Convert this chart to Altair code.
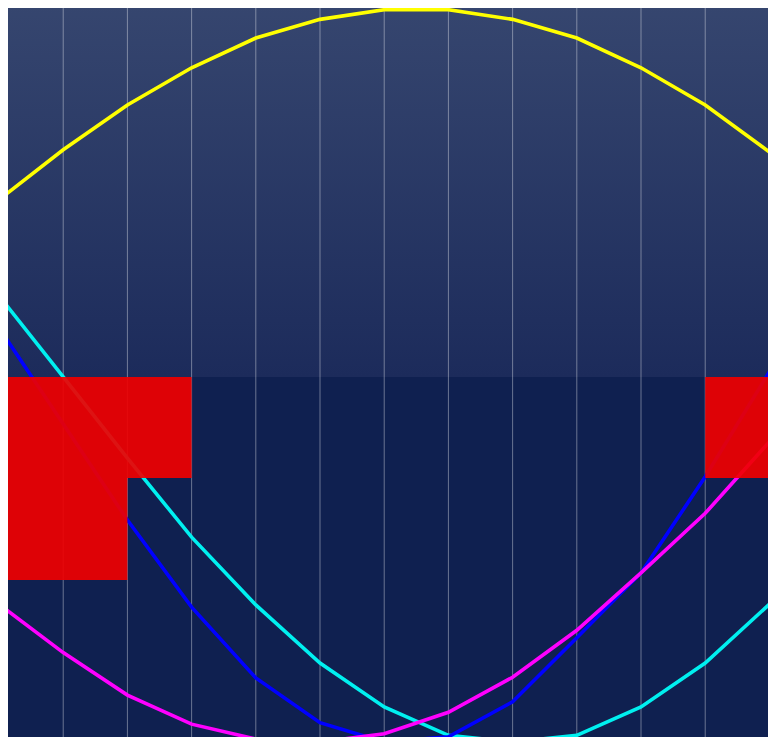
import altair as alt
import pandas as pd

# ---- data (x = grid column index, y = height units 0..100) ----
x_idx = list(range(13))
yellow = [73.2, 79.9, 85.9, 90.9, 94.9, 97.4, 98.7, 98.7, 97.4, 94.9, 90.9, 85.9, 79.6]
cyan = [60.3, 49.4, 38.5, 27.9, 18.8, 11.0, 5.1, 1.3, 0.4, 1.3, 5.1, 11.0, 18.9]
blue = [56.0, 43.1, 30.2, 18.5, 9.0, 3.0, 0.4, 1.1, 5.8, 14.4, 23.1, 36.0, 50.1]
magenta = [18.9, 12.4, 6.7, 2.8, 0.8, 0.4, 1.5, 4.4, 9.1, 15.4, 23.1, 31.1, 40.7]

series_names = ["yellow", "cyan", "blue", "magenta"]
series_colors = ["#ffff00", "#00f0f0", "#0000ff", "#ff00ff"]

# red blocks (x from/to in column units, y top/bottom in height units)
block_x0 = [-1, -1, 11, 12]
block_x1 = [3, 2, 14, 14]
block_top = [49.4, 35.84, 49.4, 35.84]
block_bottom = [35.84, 22.15, 35.84, 22.15]

# upper background band
band_x0 = [-1]
band_x1 = [14]
band_top = [100.0]
band_bottom = [49.4]

grid_x = list(range(1, 13))

X_DOMAIN = [0.14, 11.978]
Y_DOMAIN = [1.074, 98.926]

W, H = 760, 729

# ---- tables ----
lines_df = pd.DataFrame({
    "x": x_idx * 4,
    "y": yellow + cyan + blue + magenta,
    "series": sum([[n] * 13 for n in series_names], []),
})
blocks_df = pd.DataFrame({"x0": block_x0, "x1": block_x1, "top": block_top, "bottom": block_bottom})
band_df = pd.DataFrame({"x0": band_x0, "x1": band_x1, "top": band_top, "bottom": band_bottom})
grid_df = pd.DataFrame({"x": grid_x})

xs = alt.Scale(domain=X_DOMAIN, nice=False, zero=False)
ys = alt.Scale(domain=Y_DOMAIN, nice=False, zero=False)

band = alt.Chart(band_df).mark_rect(
    clip=True,
    fill=alt.Gradient(
        gradient="linear",
        stops=[alt.GradientStop(color="#36466f", offset=0),
               alt.GradientStop(color="#1c2b5b", offset=1)],
        x1=0, x2=0, y1=0, y2=1,
    ),
).encode(
    x=alt.X("x0:Q", scale=xs, axis=None),
    x2="x1:Q",
    y=alt.Y("top:Q", scale=ys, axis=None),
    y2="bottom:Q",
)

grid = alt.Chart(grid_df).mark_rule(color="#ffffff", opacity=0.38, strokeWidth=1).encode(
    x=alt.X("x:Q", scale=xs, axis=None),
)

layers = [band, grid]
for name, col in zip(series_names, series_colors):
    layers.append(
        alt.Chart(lines_df).transform_filter(alt.datum.series == name)
        .mark_line(clip=True, color=col, strokeWidth=3.6)
        .encode(
            x=alt.X("x:Q", scale=xs, axis=None),
            y=alt.Y("y:Q", scale=ys, axis=None),
        )
    )

blocks = alt.Chart(blocks_df).mark_rect(clip=True, color="#f00000", opacity=0.92).encode(
    x=alt.X("x0:Q", scale=xs, axis=None),
    x2="x1:Q",
    y=alt.Y("top:Q", scale=ys, axis=None),
    y2="bottom:Q",
)
layers.append(blocks)

chart = alt.layer(*layers).properties(
    width=W, height=H, padding=0, autosize=alt.AutoSizeParams(type="none"),
    background="#0f2050",
).configure_view(strokeWidth=0)

chart.save("out.html", embed_options={"renderer": "svg", "actions": False})
